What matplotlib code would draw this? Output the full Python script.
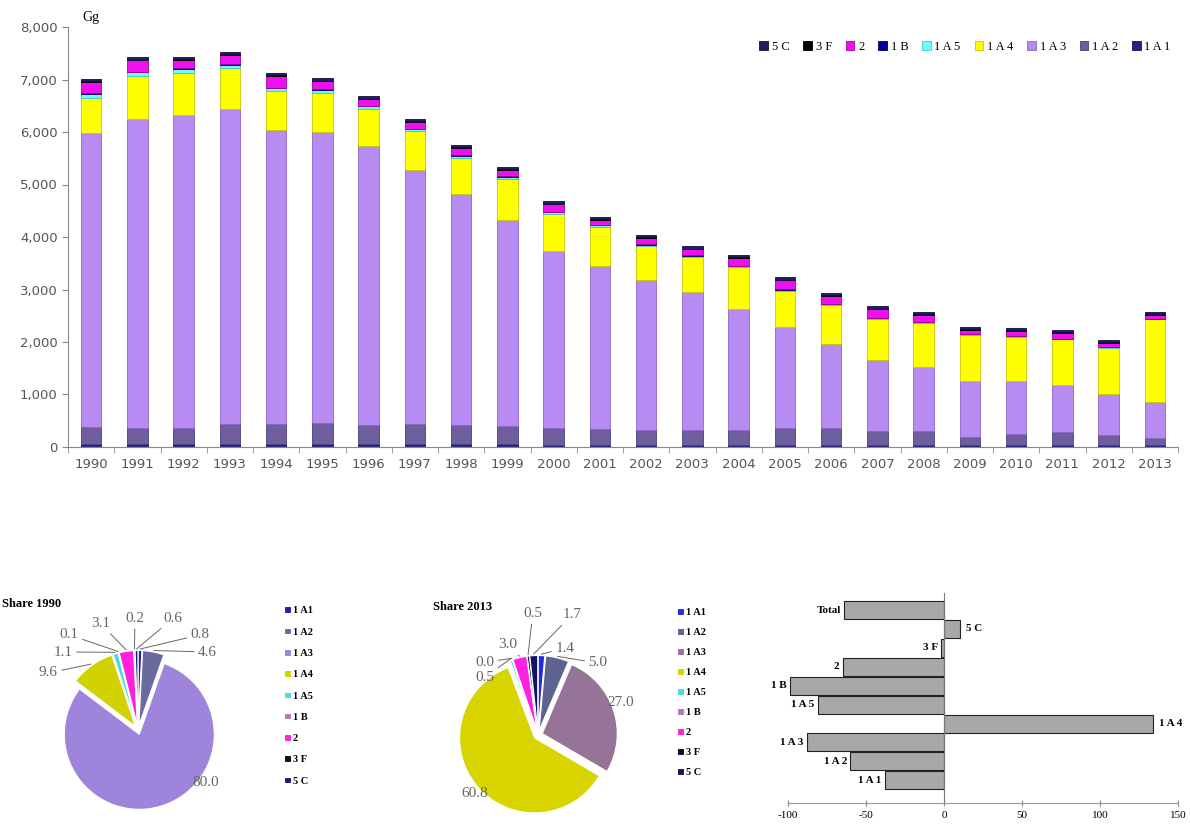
import numpy as np
import matplotlib
matplotlib.use('Agg')
import matplotlib.pyplot as plt

# ---- data -------------------------------------------------------------
years = [str(y) for y in range(1990, 2014)]
cats = ['1 A 1', '1 A 2', '1 A 3', '1 A 4', '1 A 5', '1 B', '2', '3 F', '5 C']

s_1a1 = [56, 56, 55, 55, 55, 54, 53, 52, 50, 48, 46, 45, 44, 43, 42, 42, 41, 40, 40, 38, 38, 37, 37, 36]
s_1a2 = [322, 304, 305, 375, 375, 396, 357, 378, 370, 352, 324, 305, 276, 287, 288, 318, 329, 260, 270, 152, 212, 253, 193, 129]
s_1a3 = [5600, 5890, 5970, 6000, 5600, 5550, 5320, 4840, 4400, 3930, 3360, 3100, 2860, 2620, 2290, 1920, 1600, 1350, 1210, 1060, 1000, 900, 770, 697]
s_1a4 = [672, 810, 800, 780, 750, 750, 710, 740, 690, 780, 710, 750, 650, 670, 810, 700, 730, 790, 840, 880, 850, 860, 890, 1569]
s_1a5 = [77, 75, 75, 70, 60, 55, 50, 45, 40, 40, 35, 30, 25, 25, 20, 20, 18, 16, 15, 14, 14, 13, 13, 13]
s_1b = [7, 7, 6, 6, 6, 5, 5, 5, 4, 4, 4, 3, 3, 3, 3, 2, 2, 2, 1, 1, 1, 1, 0, 0]
s_2 = [217, 222, 163, 178, 218, 154, 130, 135, 141, 121, 146, 92, 126, 116, 151, 172, 164, 166, 138, 88, 98, 109, 80, 77]
s_3f = [14, 14, 14, 14, 14, 14, 13, 13, 13, 13, 13, 13, 13, 13, 13, 13, 13, 13, 13, 13, 13, 13, 13, 13]
s_5c = [42, 42, 42, 42, 42, 42, 42, 42, 42, 42, 42, 42, 43, 43, 43, 43, 43, 43, 43, 44, 44, 44, 44, 44]
series = [s_1a1, s_1a2, s_1a3, s_1a4, s_1a5, s_1b, s_2, s_3f, s_5c]

pie_labels = ['1 A1', '1 A2', '1 A3', '1 A4', '1 A5', '1 B', '2', '3 F', '5 C']
share_1990 = [0.8, 4.6, 80.0, 9.6, 1.1, 0.1, 3.1, 0.2, 0.6]
share_2013 = [1.4, 5.0, 27.0, 60.8, 0.5, 0.0, 3.0, 0.5, 1.7]

chg_labels = ['1 A 1', '1 A 2', '1 A 3', '1 A 4', '1 A 5', '1 B', '2', '3 F', '5 C', 'Total']
chg_values = [-38, -60, -88, 134, -81, -99, -65, -2, 10, -64]

# ---- styles -----------------------------------------------------------
bar_colors = ['#26267F', '#6E5E9E', '#B68CF2', '#FFFF00', '#66FFFF', '#000099', '#EE11EE', '#000000', '#1F1F5F']
bar_edges = ['#14144F', '#4E3E7E', '#8A66C4', '#C8C800', '#40C8C8', '#000060', '#A000A0', '#000000', '#10103A']
pie_col_1990 = ['#2020A8', '#6A6A9E', '#9E84DA', '#D2D200', '#40E0E0', '#B07AB0', '#FF20E0', '#101010', '#1A1A70']
pie_col_2013 = ['#2828E0', '#5E6490', '#967498', '#D8D400', '#40E0E0', '#B07AB0', '#FF20E0', '#0A0A30', '#14145E']
serif = 'Liberation Serif'
gray = '#555555'

fig = plt.figure(figsize=(11.9, 8.27), dpi=100)
W, H = 1190.0, 827.0


def px_axes(x0, y0, x1, y1):
    # pixel box (top-left origin) -> figure axes
    return fig.add_axes([x0 / W, 1 - y1 / H, (x1 - x0) / W, (y1 - y0) / H])


# ---- stacked bars -----------------------------------------------------
ax = px_axes(68, 27, 1178, 447)
x = np.arange(len(years))
bottom = np.zeros(len(years))
handles = []
for vals, lab, c, ec in zip(series, cats, bar_colors, bar_edges):
    b = ax.bar(x, vals, 0.44, bottom=bottom, color=c, edgecolor=ec, linewidth=0.6, label=lab)
    handles.append(b)
    bottom += np.array(vals)

ax.set_xlim(-0.5, len(years) - 0.5)
ax.set_ylim(0, 8000)
ax.set_yticks(range(0, 8001, 1000))
ax.set_yticklabels(['{:,}'.format(v) for v in range(0, 8001, 1000)], color=gray, fontsize=9.5)
ax.set_xticks(x)
ax.set_xticklabels(years, color=gray, fontsize=9.5)
ax.set_xticks(np.arange(-0.5, len(years), 1), minor=True)
ax.tick_params(axis='x', which='major', length=0, pad=8)
ax.tick_params(axis='x', which='minor', length=4, color='#888888')
ax.tick_params(axis='y', length=4, color='#888888')
for s in ['top', 'right']:
    ax.spines[s].set_visible(False)
for s in ['left', 'bottom']:
    ax.spines[s].set_color('#888888')
ax.text(82 / W, 1 - 18 / H, 'Gg', transform=fig.transFigure, family=serif, fontsize=10, va='center')

leg = fig.legend(handles[::-1], cats[::-1], loc='center right', bbox_to_anchor=(1182 / W, 1 - 47 / H),
                 ncol=9, frameon=False, prop={'family': serif, 'size': 9},
                 handlelength=0.7, handleheight=0.7, handletextpad=0.3, columnspacing=1.1)


# ---- pies -------------------------------------------------------------
def draw_pie(cx, cy, shares, colors, title, title_xy, label_pos, leg_xy, leg_gap):
    pa = px_axes(cx - 135, cy - 135, cx + 135, cy + 135)
    vals = [max(v, 0.02) for v in shares]
    wedges, _ = pa.pie(vals, colors=colors, startangle=90, counterclock=False,
                       explode=[0.06] * len(vals), radius=1.0,
                       wedgeprops=dict(edgecolor='white', linewidth=0.8))
    pa.set_xlim(-1.8, 1.8)
    pa.set_ylim(-1.8, 1.8)
    pa.set_aspect('equal')
    pa.axis('off')
    for w, v, (tx, ty, line) in zip(wedges, shares, label_pos):
        ang = np.deg2rad((w.theta1 + w.theta2) / 2)
        ex, ey = 1.02 * np.cos(ang) + w.center[0], 1.02 * np.sin(ang) + w.center[1]
        if line:
            pa.annotate('%.1f' % v, xy=(ex, ey), xytext=(tx, ty), ha='center', va='center',
                        fontsize=11, color='#666666', family=serif,
                        arrowprops=dict(arrowstyle='-', color='#666666', lw=0.7, shrinkA=1, shrinkB=0))
        else:
            pa.text(tx, ty, '%.1f' % v, ha='center', va='center', fontsize=11, color='#666666', family=serif)
    fig.text(title_xy[0] / W, 1 - title_xy[1] / H, title, family=serif, fontsize=9,
             fontweight='bold', va='center')
    fig.legend(wedges, pie_labels, loc='upper left', bbox_to_anchor=(leg_xy[0] / W, 1 - leg_xy[1] / H),
               frameon=False, prop={'family': serif, 'size': 7.5, 'weight': 'bold'},
               handlelength=0.6, handleheight=0.6, handletextpad=0.2, labelspacing=leg_gap)


draw_pie(138, 730, share_1990, pie_col_1990, 'Share 1990', (2, 604),
         [(0.83, 1.27, True), (0.93, 1.04, True), (0.9, -0.7, False), (-1.2, 0.76, True),
          (-1.0, 1.04, True), (-0.92, 1.27, True), (-0.5, 1.42, True), (-0.04, 1.49, True),
          (0.47, 1.49, True)],
         (275, 597), 1.18)

draw_pie(538, 735, share_2013, pie_col_2013, 'Share 2013', (433, 607),
         [(0.36, 1.16, True), (0.8, 0.96, True), (1.1, 0.44, False), (-0.84, -0.78, False),
          (-0.71, 0.77, True), (-0.71, 0.97, True), (-0.41, 1.2, True), (-0.07, 1.62, True),
          (0.45, 1.6, True)],
         (668, 599), 1.05)

# ---- change bars ------------------------------------------------------
bx = px_axes(788, 593, 1178, 803)
y = np.arange(len(chg_labels))
bx.barh(y, chg_values, height=0.95, color='#A8A8A8', edgecolor='#222222', linewidth=0.8)
bx.set_xlim(-100, 150)
bx.set_ylim(-1.2, 9.9)
bx.set_xticks([-100, -50, 0, 50, 100, 150])
bx.set_xticklabels(['-100', '-50', '0', '50', '100', '150'], family=serif, fontsize=8)
bx.tick_params(axis='x', direction='inout', length=5, color='#888888')
bx.set_yticks([])
bx.spines['left'].set_position(('data', 0))
bx.spines['left'].set_color('#777777')
bx.spines['bottom'].set_color('#999999')
for s in ['top', 'right']:
    bx.spines[s].set_visible(False)
for yi, v, lab in zip(y, chg_values, chg_labels):
    if v >= 0:
        bx.text(v + 4, yi, lab, ha='left', va='center', family=serif, fontsize=8, fontweight='bold')
    else:
        bx.text(v - 2, yi, lab, ha='right', va='center', family=serif, fontsize=8, fontweight='bold')

fig.savefig('out.png', dpi=100)
